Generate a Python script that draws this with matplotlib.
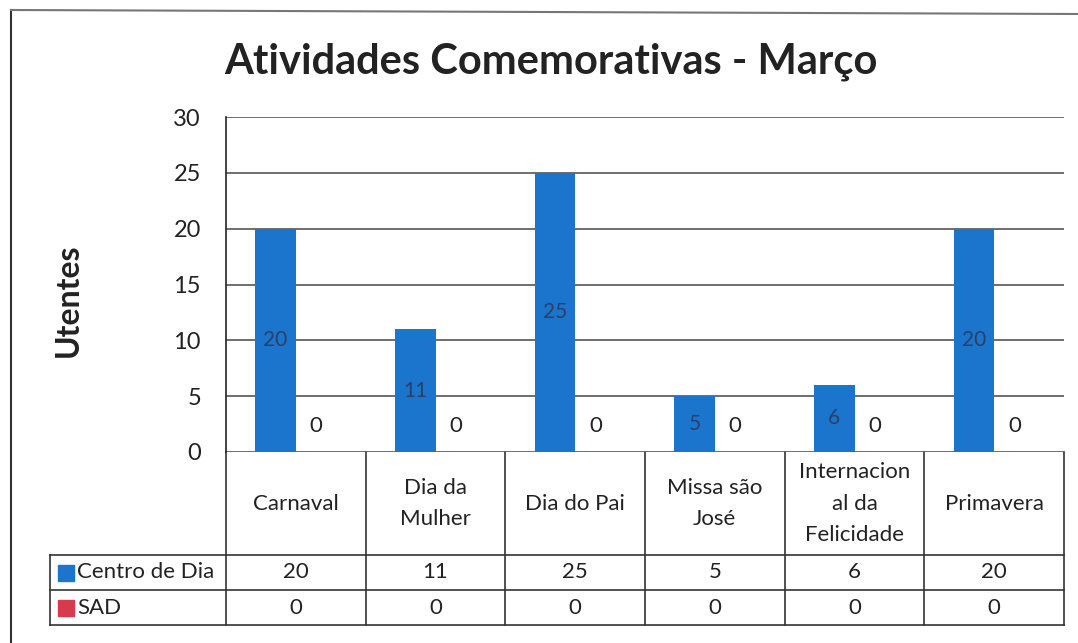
import matplotlib
matplotlib.use("Agg")
import matplotlib.pyplot as plt
import numpy as np

plt.rcParams['font.family'] = ['Lato', 'DejaVu Sans']

# dados
categorias = ["Carnaval", "Dia da\nMulher", "Dia do Pai", "Missa são\nJosé",
              "Internacion\nal da\nFelicidade", "Primavera"]
centro_dia = [20, 11, 25, 5, 6, 20]
sad = [0, 0, 0, 0, 0, 0]
series = ["Centro de Dia", "SAD"]
cores = ["#1b75cc", "#d63a4c"]
yticks = [0, 5, 10, 15, 20, 25, 30]

W, H = 1078, 643
fig = plt.figure(figsize=(W / 100, H / 100), dpi=100)

# camada de fundo em pixels (moldura e tabela)
bg = fig.add_axes([0, 0, 1, 1])
bg.set_xlim(0, W)
bg.set_ylim(H, 0)
bg.axis("off")

# eixo das barras
x0, x1 = 226, 1064
ytop, ybot = 117, 452
ax = fig.add_axes([x0 / W, (H - ybot) / H, (x1 - x0) / W, (ybot - ytop) / H])
x = np.arange(len(categorias))
bw = 0.29
ax.bar(x - bw / 2, centro_dia, bw, color=cores[0], zorder=3)
ax.bar(x + bw / 2, sad, bw, color=cores[1], zorder=3)
for xi, v in zip(x, centro_dia):
    ax.text(xi - bw / 2, v / 2, str(v), ha="center", va="center",
            fontsize=15, color="#2a3f6a", zorder=4)
for xi, v in zip(x, sad):
    ax.text(xi + bw / 2, v + 2.3, str(v), ha="center", va="center",
            fontsize=16, color="#222222", zorder=4)
ax.set_xlim(-0.5, len(categorias) - 0.5)
ax.set_ylim(0, 30)
ax.set_yticks(yticks)
ax.tick_params(axis="y", length=0, labelsize=17, pad=18, labelcolor="#222222")
ax.set_xticks([])
ax.grid(axis="y", color="#555555", linewidth=1.2, zorder=0)
for s in ["top", "right", "bottom"]:
    ax.spines[s].set_visible(False)
ax.spines["left"].set_color("#222222")
ax.spines["left"].set_linewidth(1.2)
ax.set_facecolor("none")

# titulo e rotulo
fig.text(551 / W, 1 - 62 / H, "Atividades Comemorativas - Março", ha="center",
         va="center", fontsize=30, fontweight="bold", color="#222222")
fig.text(68 / W, 1 - 300 / H, "Utentes", ha="center", va="center", rotation=90,
         fontsize=23, fontweight="bold", color="#222222")

# moldura
lc = "#333333"
bg.plot([11, 11], [10, 643], color=lc, lw=1.5)
bg.plot([11, W], [10, 14], color="#777777", lw=1.5)

# tabela de dados
colw = (x1 - x0) / len(categorias)
cols = [x0 + i * colw for i in range(len(categorias) + 1)]
r0, r1, r2, r3 = ybot, 555, 590, 625
lab_x = 50
for cx in cols:
    bg.plot([cx, cx], [r0, r3], color=lc, lw=1.2)
for ry in [r1, r2, r3]:
    bg.plot([lab_x, x1], [ry, ry], color=lc, lw=1.2)
bg.plot([lab_x, lab_x], [r1, r3], color=lc, lw=1.2)
for i, c in enumerate(categorias):
    cx = (cols[i] + cols[i + 1]) / 2
    bg.text(cx, (r0 + r1) / 2, c, ha="center", va="center", fontsize=16,
            linespacing=1.7, color="#222222")
    bg.text(cx, (r1 + r2) / 2, str(centro_dia[i]), ha="center", va="center",
            fontsize=16, color="#222222")
    bg.text(cx, (r2 + r3) / 2, str(sad[i]), ha="center", va="center",
            fontsize=16, color="#222222")
for j, (nome, cor) in enumerate(zip(series, cores)):
    ry = (r1 + r2) / 2 if j == 0 else (r2 + r3) / 2
    bg.plot(66, ry, marker="s", markersize=11, color=cor, linestyle="none")
    bg.text(77, ry, nome, ha="left", va="center", fontsize=16, color="#222222")

fig.savefig("out.png", dpi=100)
